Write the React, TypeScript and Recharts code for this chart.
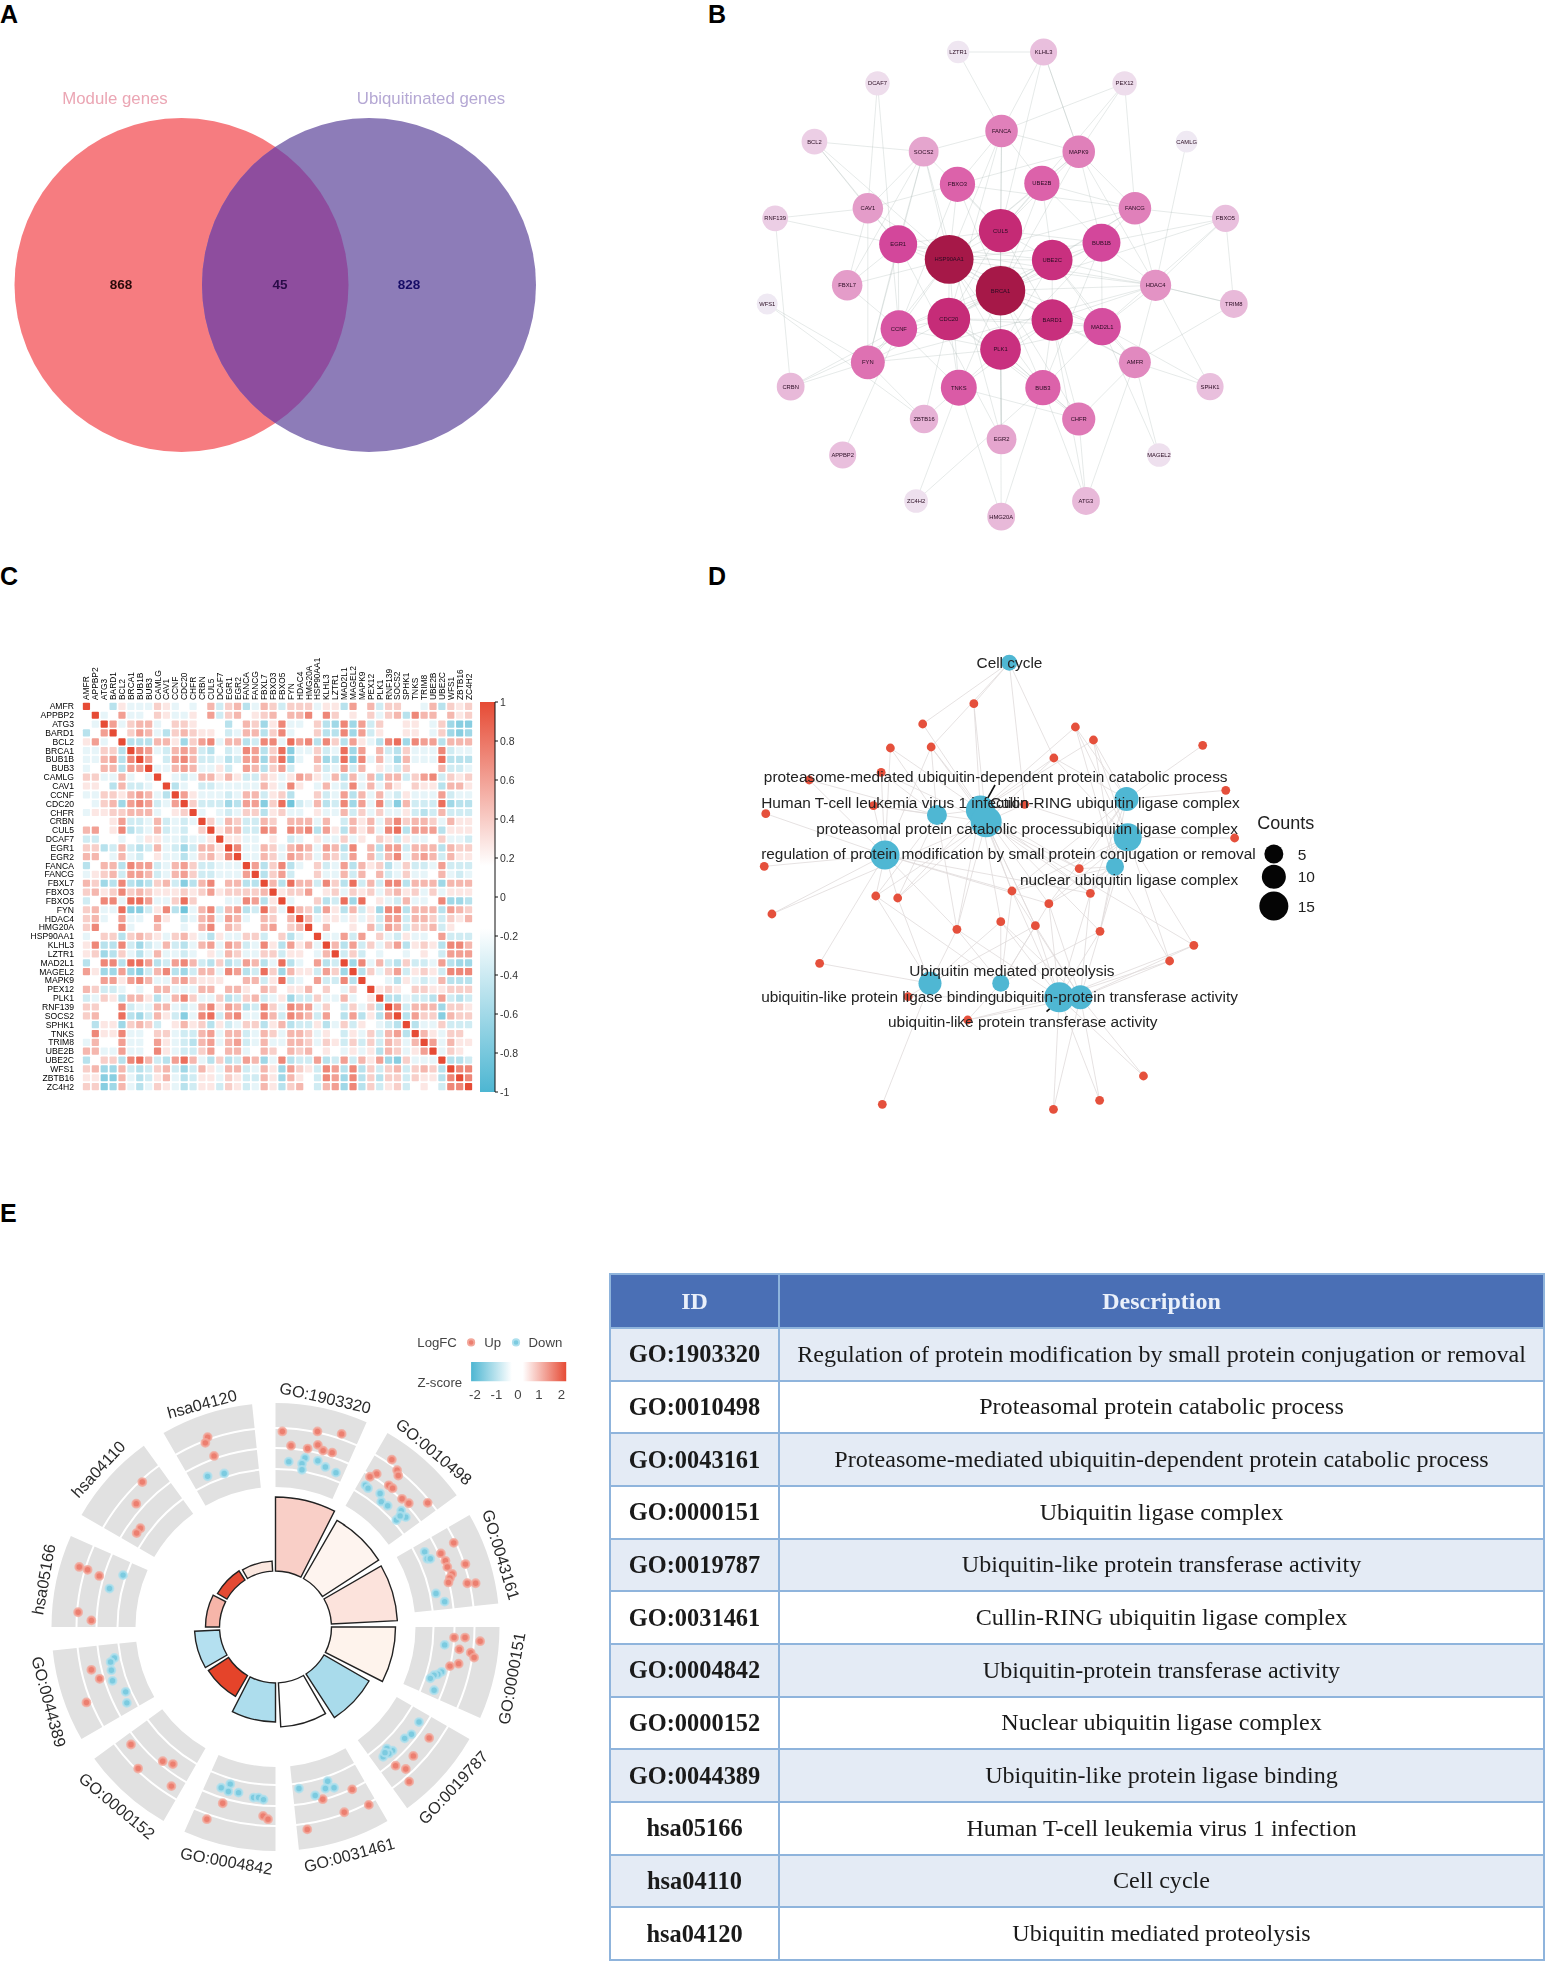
import React from "react";
import { ScatterChart, Scatter, XAxis, YAxis, ReferenceLine, ReferenceArea, PieChart, Pie } from "recharts";

const SANS = "'Liberation Sans', Arial, sans-serif";
const SERIF = "'Liberation Serif', 'Times New Roman', serif";

/* ---------- Panel A ---------- */
const vennSets = [
  { name: "Module genes", x: 181.5, y: 285, r: 167, color: "#F67C80" },
  { name: "Ubiquitinated genes", x: 369, y: 285, r: 167, color: "#8D7CB8" },
];
const vennTitles = [
  { label: "Module genes", x: 115, y: 98, tone: "#EBA6B4" },
  { label: "Ubiquitinated genes", x: 431, y: 98, tone: "#B5A8D4" },
];
const vennCounts = [
  { label: "868", x: 121, y: 284, tone: "#2A0A0A" },
  { label: "45", x: 280, y: 284, tone: "#2A0C48" },
  { label: "828", x: 409, y: 284, tone: "#170C66" },
];

/* ---------- Panel B ---------- */
const ppiNodes: [string, number, number, number][] = [
  ["LZTR1", 662, 96, 33], ["KLHL3", 910, 96, 40], ["DCAF7", 428, 190, 36], ["PEX12", 1145, 190, 36],
  ["FANCA", 788, 333, 48], ["BCL2", 245, 365, 38], ["SOCS2", 562, 395, 44], ["MAPK9", 1012, 395, 48],
  ["CAMLG", 1325, 365, 32], ["FBXO3", 660, 493, 52], ["UBE2B", 905, 490, 52], ["CAV1", 400, 565, 45],
  ["FANCG", 1175, 565, 48], ["RNF139", 131, 595, 38], ["FBXO5", 1438, 595, 40], ["CUL5", 785, 632, 64],
  ["EGR1", 488, 673, 56], ["HSP90AA1", 636, 718, 72], ["UBE2C", 935, 720, 60], ["BUB1B", 1078, 668, 56],
  ["BRCA1", 785, 812, 73], ["CDC20", 635, 897, 63], ["BARD1", 935, 900, 61], ["MAD2L1", 1080, 920, 55],
  ["PLK1", 785, 988, 60], ["CCNF", 490, 926, 54], ["HDAC4", 1235, 796, 46], ["FBXL7", 340, 796, 45],
  ["FYN", 400, 1027, 50], ["TNKS", 664, 1103, 53], ["BUB3", 908, 1103, 52], ["AMFR", 1175, 1027, 47],
  ["CHFR", 1012, 1197, 49], ["TRIM8", 1462, 852, 41], ["WFS1", 108, 852, 31], ["CRBN", 176, 1100, 41],
  ["SPHK1", 1393, 1100, 40], ["ZBTB16", 563, 1197, 42], ["EGR2", 788, 1258, 44], ["APPBP2", 327, 1305, 40],
  ["MAGEL2", 1245, 1305, 35], ["ZC4H2", 540, 1443, 35], ["ATG3", 1033, 1443, 41], ["HMG20A", 787, 1490, 41],
];
const ppiLinks: [string, string][] = [];
const ppiAdjacency: [string, string][] = [
  ["HSP90AA1", "BRCA1 CDC20 UBE2C CUL5 BARD1 PLK1 EGR1 CCNF BUB1B FANCA FBXO3 UBE2B CAV1 FYN TNKS MAD2L1 HDAC4 FBXL7 SOCS2 BCL2 BUB3 MAPK9 FANCG"],
  ["BRCA1", "CDC20 UBE2C CUL5 BARD1 PLK1 EGR1 CCNF BUB1B FANCA FANCG FBXO3 UBE2B MAD2L1 HDAC4 CHFR TNKS EGR2 BUB3 AMFR MAPK9 CRBN FBXO5"],
  ["CDC20", "UBE2C BARD1 PLK1 CCNF BUB1B BUB3 MAD2L1 TNKS CHFR FANCA FYN CUL5 ZBTB16"],
  ["UBE2C", "CUL5 BARD1 PLK1 BUB1B MAD2L1 UBE2B FANCG HDAC4 AMFR CCNF EGR1"],
  ["CUL5", "UBE2B FBXO3 BARD1 EGR1 SOCS2 FANCA BUB1B MAPK9 PEX12 KLHL3 PLK1"],
  ["BARD1", "PLK1 MAD2L1 BUB3 CHFR AMFR HDAC4 ATG3 TNKS"],
  ["PLK1", "EGR2 TNKS BUB3 CCNF FYN CHFR MAD2L1 BUB1B HMG20A"],
  ["BUB1B", "MAD2L1 BUB3 FANCG MAPK9 HDAC4 FBXO5 UBE2B"],
  ["MAD2L1", "BUB3 HDAC4 AMFR FBXO5 SPHK1 MAGEL2"],
  ["EGR1", "EGR2 FYN CAV1 SOCS2 CCNF FBXL7 BCL2 RNF139 HDAC4"],
  ["CCNF", "FBXO3 FYN FBXL7 CRBN APPBP2 TNKS DCAF7"],
  ["FYN", "CAV1 SOCS2 HDAC4 CRBN ZBTB16 WFS1"],
  ["SOCS2", "CAV1 FANCA FBXL7 BCL2 EGR2"],
  ["CAV1", "BCL2 RNF139 DCAF7 FBXL7 MAPK9"],
  ["MAPK9", "FANCA UBE2B PEX12 FANCG KLHL3 HDAC4"],
  ["FANCA", "KLHL3 LZTR1 FBXO3 UBE2B PEX12"],
  ["FANCG", "FBXO3 PEX12 FBXO5 UBE2B HDAC4"],
  ["HDAC4", "TRIM8 AMFR FBXO5 CAMLG SPHK1"],
  ["AMFR", "SPHK1 CHFR ATG3 MAGEL2 TRIM8"],
  ["BUB3", "CHFR ATG3 ZC4H2 HMG20A"],
  ["CHFR", "ATG3 TNKS"],
  ["TNKS", "ZBTB16 HMG20A ZC4H2"],
  ["KLHL3", "LZTR1 MAPK9"],
  ["TRIM8", "HDAC4 FBXO5"],
  ["RNF139", "CRBN"],
  ["WFS1", "ZBTB16"],
];
ppiAdjacency.forEach(([from, tos]) => tos.split(" ").forEach((to) => ppiLinks.push([from, to])));
const ppiLevels: [number, string][] = [
  [32, "#EFE9F3"], [36, "#EEDDEC"], [40, "#E9BFDD"], [44, "#E5A5CE"], [48, "#E080BA"],
  [52, "#DC62AA"], [56, "#D3479B"], [60, "#C9307F"], [64, "#C52A75"], [72, "#A61848"],
];

/* ---------- Panel C ---------- */
const genes = ["AMFR","APPBP2","ATG3","BARD1","BCL2","BRCA1","BUB1B","BUB3","CAMLG","CAV1","CCNF","CDC20","CHFR","CRBN","CUL5","DCAF7","EGR1","EGR2","FANCA","FANCG","FBXL7","FBXO3","FBXO5","FYN","HDAC4","HMG20A","HSP90AA1","KLHL3","LZTR1","MAD2L1","MAGEL2","MAPK9","PEX12","PLK1","RNF139","SOCS2","SPHK1","TNKS","TRIM8","UBE2B","UBE2C","WFS1","ZBTB16","ZC4H2"];
// upper triangle, tenths of a correlation; row i holds columns i+1..43
const corrUpper: number[][] = [
  [0,0,-3,1,-1,-1,-1,2,1,-1,0,-1,0,3,-2,2,3,-3,-1,3,2, -2,2,2,2,-1,1,1,-3,4,0,3,-2,2,2,0,0,-1,3,-3,2,1,2],
  [-1,0,4,-1,-1,0,2,1,-1,-1,1,0,4,-2,2,3,0,1,2,3, 0,3,3,5,0,5,2,0,1,0,2,-1,2,3,-3,5,3,3,0,3,1,2],
  [4,-1,2,3,3,-1,0,2,2,1,0,0,0,-3,0,3,2,-4,1, 5,-1,-1,0,2,-3,-4,5,-4,4,-2,2,0,0,1,1,0,-1,2,-4,-5,-5],
  [0,2,4,3,-1,-3,2,3,2,1,1,0,-2,-1,3,3,-3,2, 5,-1,0,0,2,-3,-3,5,-4,4,-2,1,0,0,1,1,0,-1,2,-4,-5,-4],
  [-3,-3,-3,3,3,1,-4,2,4,5,-1,3,3,-3,-2,5,5, -1,6,4,5,-3,5,2,-3,4,1,-1,-3,5,6,-4,5,4,4,-3,3,3,3],
  [5,4,-1,-2,3,4,3,-2,-3,0,-2,-1,5,4,-3,2, 6,-5,-1,-1,2,-2,-1,6,-4,4,0,3,-2,-3,2,-1,-1,-1,5,-2,-1,-1],
  [4,0,-2,4,5,3,-2,-2,-1,-3,-2,4,4,-4,3, 6,-5,-1,0,3,-4,-3,6,-5,5,-1,3,-1,-4,3,-1,-1,-1,6,-3,-3,-3],
  [-1,-1,3,4,3,-1,-1,1,-2,0,4,3,-3,2, 4,-2,0,0,2,-2,-1,4,-2,3,0,1,-1,-2,2,0,0,0,3,-2,-2,-1],
  [0,-1,-2,-1,3,3,1,3,1,-2,-2,2,1, -1,1,4,3,1,-1,3,-3,3,-1,3,-3,3,3,-2,2,4,5,-2,2,1,2],
  [-3,-1,0,-2,-2,-1,-1,-1,-1,-1,3,1, -1,5,1,0,-1,3,-1,-2,5,-1,3,-1,3,1,0,2,1,1,-3,3,3,1],
  [4,1,-1,-1,-1,-2,-1,3,3,-2,1, 2,-3,0,0,2,-2,-1,4,-3,3,-1,3,-1,-2,1,-1,-1,-1,4,-2,-1,-1],
  [2,-2,-2,-2,-4,-3,4,4,-5,2, 6,-6,-2,-1,3,-3,-2,5,-4,4,-1,5,-2,-5,3,-2,-2,-2,6,-4,-3,-3],
  [-1,0,-1,-2,-1,2,2,-3,1, 2,-1,-1,0,1,-1,-1,3,-2,2,-1,2,-1,-1,1,-2,-3,-2,3,-2,-2,-2],
  [2,-1,3,2,-2,-2,3,2, 0,3,3,3,-1,3,0,-2,3,1,3,-1,3,5,2,3,3,2,-1,3,1,1],
  [1,3,3,-2,-2,5,4, 0,5,4,5,-3,4,1,-3,3,1,3,-1,5,6,-3,4,4,4,-3,1,1,1],
  [1,1,-1,-1,0,1, 0,-2,-1,0,1,-1,-1,2,-1,1,0,2,1,-2,1,-1,-1,0,2,-1,-1,-2],
  [5,-1,-1,3,2, -1,3,4,3,-1,4,3,-3,5,0,3,-3,4,4,-2,3,3,3,-3,3,2,2],
  [-1,-1,3,2, -1,4,3,2,-1,3,2,-2,4,0,3,-2,3,5,-1,3,4,3,-2,3,1,1],
  [4,-3,2, 5,-3,-1,0,2,-2,-1,4,-3,3,1,2,-3,-1,2,-2,-2,-1,4,-2,-2,-2],
  [-3,2, 4,-2,0,0,2,-1,-1,3,-2,3,0,3,-2,-1,2,-1,-1,0,3,-1,-2,-1],
  [3, -3,6,3,3,-2,5,2,-3,6,-2,3,-2,5,5,-3,3,3,3,-4,3,3,3],
  [1,2,2,4,0,1,2,-1,2,1,2,-1,2,3,1,2,-1,2,-1,1,1,1],
  [-1,0,0,2,-3,-2,6,-4,6,0,1,-1,-2,3,-1,-1,0,5,-4,-4,-3],
  [3,2,-3,4,1,-3,3,-2,1,-4,5,5,-3,3,3,3,-3,4,3,2],
  [3,-1,1,1,-1,1,-1,1,-2,4,4,-2,3,3,2,-2,2,1,3],
  [0,3,0,0,1,0,3,-2,4,3,-2,2,2,3,-2,1,0,0],
  [-1,-1,4,-2,4,0,2,-1,-2,1,-1,-1,0,4,-2,-2,-2],
  [3,-3,4,-2,2,-1,2,4,-3,1,2,1,-3,5,5,3],
  [-2,2,-2,0,-1,0,0,-1,0,1,0,-2,4,4,4],
  [-4,5,-1,3,-2,-3,2,-2,-2,-1,4,-3,-4,-4],
  [-3,2,-1,2,4,-2,1,2,1,-2,5,5,5],
  [0,0,-1,-3,1,-1,-2,-1,3,-3,-3,-3],
  [1,2,1,0,2,2,1,1,2,2,2],
  [-3,-3,-1,-2,-2,-3,4,-2,-3,-2],
  [5,-2,3,3,3,-4,2,2,1],
  [-3,4,2,2,-5,3,2,2],
  [-3,-1,-1,2,-2,-2,-2],
  [3,1,-1,2,2,0],
  [4,-1,3,1,1],
  [-1,2,1,0],
  [-3,-3,-2],
  [5,5],
  [5],
  [],
];
const corrTicks = [1, 0.8, 0.6, 0.4, 0.2, 0, -0.2, -0.4, -0.6, -0.8, -1];

/* ---------- Panel D ---------- */
const geneDots = [
  [608,191],[475,252],[872,261],[919,300],[391,324],[497,321],[1203,316],[816,354],[367,397],[180,420],
  [1263,451],[347,497],[740,493],[67,521],[1286,594],[63,679],[882,686],[353,768],[410,774],[707,753],
  [911,760],[803,791],[83,822],[678,845],[768,857],[564,868],[936,874],[1180,916],[1117,963],[207,970],
  [437,1070],[592,1140],[1049,1308],[935,1381],[815,1408],[370,1393],
].map(([x, y]) => ({ x, y }));
const termNodes = [
  { id: "CC", x: 700, y: 68, count: 2, genes: [0,1,5,7,12] },
  { id: "P1", x: 625, y: 510, count: 15, genes: [0,1,4,5,7,3,2,12,16,18,19,20,21,23,24,25,26] },
  { id: "P2", x: 640, y: 545, count: 17, genes: [0,5,7,8,11,12,16,17,18,19,20,22,24,25,27] },
  { id: "HT", x: 512, y: 525, count: 6, genes: [4,5,8,9,11,12,17,18,25] },
  { id: "CR", x: 1005, y: 477, count: 10, genes: [2,3,6,7,10,16,19,20,21,26] },
  { id: "UL", x: 1008, y: 592, count: 14, genes: [3,2,7,14,16,19,21,20,26,27,28,12] },
  { id: "NU", x: 975, y: 680, count: 4, genes: [3,2,16,19,21,20,26,28] },
  { id: "RG", x: 377, y: 645, count: 15, genes: [4,5,8,9,11,13,15,17,18,22,25,19,21,20,29] },
  { id: "ULB", x: 494, y: 1030, count: 9, genes: [17,18,25,29,30,23,35,24] },
  { id: "UMP", x: 678, y: 1030, count: 3, genes: [19,23,24,25,26,21,17,31] },
  { id: "UPT", x: 830, y: 1072, count: 16, genes: [19,21,20,23,24,25,26,28,27,32,33,34,31,30] },
  { id: "ULT", x: 885, y: 1072, count: 10, genes: [19,21,20,23,26,27,28,32,33,34,24,31] },
];
const termLabels = [
  { label: "Cell cycle", x: 615, y: 68 },
  { label: "proteasome-mediated ubiquitin-dependent protein catabolic process", x: 62, y: 408 },
  { label: "Human T-cell leukemia virus 1 infection", x: 55, y: 487 },
  { label: "Cullin-RING ubiquitin ligase complex", x: 650, y: 487 },
  { label: "proteasomal protein catabolic process", x: 198, y: 565 },
  { label: "ubiquitin ligase complex", x: 870, y: 565 },
  { label: "regulation of protein modification by small protein conjugation or removal", x: 55, y: 640 },
  { label: "nuclear ubiquitin ligase complex", x: 728, y: 718 },
  { label: "Ubiquitin mediated proteolysis", x: 440, y: 990 },
  { label: "ubiquitin-like protein ligase binding", x: 55, y: 1068 },
  { label: "ubiquitin-protein transferase activity", x: 665, y: 1068 },
  { label: "ubiquitin-like protein transferase activity", x: 385, y: 1145 },
];
const leaderLines = [
  [[663, 435], [628, 508]],
  [[502, 510], [512, 525]],
  [[835, 1075], [797, 1115]],
];
const countKey = [
  { x: 1388, y: 642, count: 5 },
  { x: 1388, y: 710, count: 10 },
  { x: 1388, y: 798, count: 15 },
];
const countKeyText = [
  { label: "5", x: 1450, y: 642 },
  { label: "10", x: 1450, y: 710 },
  { label: "15", x: 1450, y: 798 },
];
const countKeyTitle = [{ label: "Counts", x: 1345, y: 548 }];

/* ---------- Panel E ---------- */
const termIds = ["GO:1903320","GO:0010498","GO:0043161","GO:0000151","GO:0019787","GO:0031461","GO:0004842","GO:0000152","GO:0044389","hsa05166","hsa04110","hsa04120"];
const termDescriptions = [
  "Regulation of protein modification by small protein conjugation or removal",
  "Proteasomal protein catabolic process",
  "Proteasome-mediated ubiquitin-dependent protein catabolic process",
  "Ubiquitin ligase complex",
  "Ubiquitin-like protein transferase activity",
  "Cullin-RING ubiquitin ligase complex",
  "Ubiquitin-protein transferase activity",
  "Nuclear ubiquitin ligase complex",
  "Ubiquitin-like protein ligase binding",
  "Human T-cell leukemia virus 1 infection",
  "Cell cycle",
  "Ubiquitin mediated proteolysis",
];
const barHeights = [74, 67, 66, 64, 52, 44, 39, 24, 25, 14, 11, 10];
const barColors = ["#F9CFC7","#FEF4EF","#FCE3DC","#FEF3EC","#A9DBEB","#FFFFFF","#ADDDED","#E5442A","#B4E0F0","#F6B5A9","#E44A33","#FBE7DF"];
const ringBands = [[140, 157], [159, 178], [180, 198], [200, 224]];
const termLabelSpots = [
  { label: "GO:1903320", x: 862, y: 190, rot: 13 },
  { label: "GO:0010498", x: 1150, y: 322, rot: 40 },
  { label: "GO:0043161", x: 1328, y: 575, rot: 73 },
  { label: "GO:0000151", x: 1355, y: 878, rot: -80 },
  { label: "GO:0019787", x: 1200, y: 1145, rot: -47 },
  { label: "GO:0031461", x: 925, y: 1310, rot: -15 },
  { label: "GO:0004842", x: 600, y: 1325, rot: 10 },
  { label: "GO:0000152", x: 310, y: 1190, rot: 40 },
  { label: "GO:0044389", x: 130, y: 935, rot: 75 },
  { label: "hsa05166", x: 115, y: 635, rot: -80 },
  { label: "hsa04110", x: 260, y: 365, rot: -47 },
  { label: "hsa04120", x: 535, y: 205, rot: -15 },
];
const upDots = [
  [748,273],[841,273],[905,279],[771,308],[815,315],[842,306],[856,320],[880,325],
  [1038,342],[1052,368],[1055,381],[998,377],[980,384],[1030,405],[1040,412],[1065,438],[1083,449],[1133,448],
  [1202,546],[1168,572],[1180,590],[1185,605],[1198,622],[1192,632],[1188,643],[1233,598],[1238,645],[1260,645],
  [1203,778],[1232,778],[1272,787],[1217,807],[1247,815],[1256,827],[1215,842],[1192,848],
  [1137,1024],[1095,1068],[1048,1092],[1075,1100],[1084,1131],
  [933,1150],[855,1174],[912,1206],[977,1188],[814,1248],
  [590,1184],[548,1223],[697,1215],[710,1223],
  [347,1040],[431,1081],[458,1088],[366,1099],[454,1142],
  [242,857],[264,879],[229,937],
  [210,605],[232,612],[263,627],[207,716],[242,736],
  [377,397],[361,450],[372,510],[362,522],
  [550,287],[544,301],[567,333],
].map(([x, y]) => ({ x, y }));
const downDots = [
  [765,347],[808,338],[800,352],[842,345],[862,360],[890,374],[800,367],
  [968,405],[975,412],[1007,425],[1010,445],[1027,455],[1063,467],[1075,483],[1050,490],[1060,480],
  [1125,568],[1132,585],[1140,585],[1155,670],[1178,690],
  [1178,796],[1170,862],[1160,868],[1150,870],[1140,878],[1150,907],
  [1110,985],[1090,1015],[1072,1025],[1040,1055],[1025,1050],[1015,1070],[1030,1062],[1020,1060],
  [792,1148],[835,1165],[868,1130],[862,1148],[885,1146],
  [610,1137],[586,1146],[605,1155],[632,1158],[672,1170],[685,1170],[698,1175],
  [303,828],[293,838],[295,858],[298,884],[333,911],[336,938],
  [326,625],[290,658],
  [550,383],[594,376],
].map(([x, y]) => ({ x, y }));
const legendTexts = [
  { label: "LogFC", x: 1158, y: 55 }, { label: "Up", x: 1305, y: 55 }, { label: "Down", x: 1445, y: 55 },
  { label: "Z-score", x: 1165, y: 153 }, { label: "-2", x: 1258, y: 182 }, { label: "-1", x: 1315, y: 182 },
  { label: "0", x: 1372, y: 182 }, { label: "1", x: 1428, y: 182 }, { label: "2", x: 1487, y: 182 },
];

/* ---------- helpers ---------- */
const mix = (hex: string, other: string, t: number) => {
  const p = (h: string, i: number) => parseInt(h.slice(i, i + 2), 16);
  const c = [1, 3, 5].map((i) => Math.round(p(hex, i) * (1 - t) + p(other, i) * t));
  return `rgb(${c[0]},${c[1]},${c[2]})`;
};
const ppiColor = (w: number) => {
  for (let i = 1; i < ppiLevels.length; i++) {
    if (w <= ppiLevels[i][0]) {
      const [a, ca] = ppiLevels[i - 1];
      const [b, cb] = ppiLevels[i];
      return mix(ca, cb, Math.max(0, (w - a) / (b - a)));
    }
  }
  return ppiLevels[ppiLevels.length - 1][1];
};
const corrColor = (v: number) => {
  const t = Math.min(1, Math.abs(v) / 7.5);
  return mix("#FFFFFF", v > 0 ? "#E64B35" : "#4DB6D2", Math.abs(v) >= 10 ? 1 : t);
};
const heatCells: { x: number; y: number; v: number }[] = [];
genes.forEach((_, r) =>
  genes.forEach((__, c) => {
    const v = r === c ? 10 : r < c ? corrUpper[r][c - r - 1] ?? 0 : corrUpper[c][r - c - 1] ?? 0;
    heatCells.push({ x: c, y: r, v });
  })
);
const geneIdx = genes.map((_, i) => i);
const corrAnchors = corrTicks.map((y) => ({ x: 0.5, y }));

const textShape = (o: { size: number; color?: string; weight?: string; anchor?: string }) => (p: any) => {
  const d = p.payload;
  return (
    <text
      x={p.cx}
      y={p.cy}
      fontFamily={SANS}
      fontSize={o.size}
      fontWeight={o.weight ?? "normal"}
      fill={d.tone ?? o.color ?? "#222"}
      textAnchor={o.anchor ?? "start"}
      dominantBaseline="central"
      transform={d.rot ? `rotate(${d.rot} ${p.cx} ${p.cy})` : undefined}
    >
      {d.label}
    </text>
  );
};

const Panel = ({ left, top, blur, children }: any) => (
  <div style={{ position: "absolute", left, top, filter: blur ? `blur(${blur}px)` : undefined }}>{children}</div>
);

const plane = (w: number, h: number, xMax: number, yMax: number, children: any) => (
  <ScatterChart width={w} height={h} margin={{ top: 0, right: 0, bottom: 0, left: 0 }}>
    <XAxis hide type="number" dataKey="x" domain={[0, xMax]} />
    <YAxis hide type="number" dataKey="y" domain={[0, yMax]} reversed />
    {children}
  </ScatterChart>
);

const nodeByName: Record<string, [string, number, number, number]> = {};
ppiNodes.forEach((n) => (nodeByName[n[0]] = n));
const ppiData = ppiNodes.map(([label, x, y, w]) => ({ label, x, y, w }));

const panelLetters = [
  { t: "A", x: 0, y: 0 }, { t: "B", x: 708, y: 0 }, { t: "C", x: 0, y: 562 }, { t: "D", x: 708, y: 562 }, { t: "E", x: 0, y: 1199 },
];
const BORDER = "2px solid #8FB4DC";

export default function App() {
  return (
    <div style={{ position: "absolute", left: 0, top: 0, width: 1549, height: 1962, background: "#fff", overflow: "hidden" }}>
      {panelLetters.map((l) => (
        <div key={l.t} style={{ position: "absolute", left: l.x, top: l.y, font: `bold 25px ${SANS}`, color: "#000", lineHeight: "29px" }}>{l.t}</div>
      ))}

      {/* A */}
      <Panel left={0} top={0} blur={0.5}>
        {plane(560, 480, 560, 480, [
          <defs key="d">
            <clipPath id="vennRight"><circle cx={vennSets[1].x} cy={vennSets[1].y} r={vennSets[1].r} /></clipPath>
          </defs>,
          <Scatter key="s" data={vennSets} isAnimationActive={false}
            shape={(p: any) => <circle cx={p.cx} cy={p.cy} r={p.payload.r} fill={p.payload.color} />} />,
          <Scatter key="o" data={[vennSets[0]]} isAnimationActive={false}
            shape={(p: any) => <circle cx={p.cx} cy={p.cy} r={p.payload.r} fill="#8E4D9E" clipPath="url(#vennRight)" />} />,
          <Scatter key="t" data={vennTitles} isAnimationActive={false} shape={textShape({ size: 16.8, anchor: "middle" })} />,
          <Scatter key="c" data={vennCounts} isAnimationActive={false} shape={textShape({ size: 13.5, weight: "bold", anchor: "middle" })} />,
        ])}
      </Panel>

      {/* B */}
      <Panel left={730} top={20} blur={0.7}>
        {plane(540, 520, 1567, 1560, [
          ...ppiLinks.map(([a, b], i) => (
            <ReferenceLine key={`l${i}`} segment={[{ x: nodeByName[a][1], y: nodeByName[a][2] }, { x: nodeByName[b][1], y: nodeByName[b][2] }]}
              stroke="#A9B8B4" strokeOpacity={0.45} strokeWidth={0.65} />
          )),
          <Scatter key="n" data={ppiData} isAnimationActive={false}
            shape={(p: any) => (
              <g>
                <circle cx={p.cx} cy={p.cy} r={p.payload.w / 2.95} fill={ppiColor(p.payload.w)} />
                <text x={p.cx} y={p.cy} fontFamily={SANS} fontSize={5.8} fill="#2A0C22" textAnchor="middle" dominantBaseline="central">{p.payload.label}</text>
              </g>
            )} />,
        ])}
      </Panel>

      {/* C */}
      <Panel left={0} top={640} blur={0.5}>
        <ScatterChart width={473} height={451} margin={{ top: 0, right: 0, bottom: 0, left: 0 }}>
          <XAxis type="number" dataKey="x" orientation="top" domain={[-0.5, 43.5]} ticks={geneIdx} interval={0} height={62}
            axisLine={false} tickLine={false} tickSize={0}
            tick={(p: any) => (
              <text x={p.x + 3} y={p.y} transform={`rotate(-90 ${p.x + 3} ${p.y})`} fontFamily={SANS} fontSize={8.4} fill="#000" textAnchor="start">{genes[p.payload.value]}</text>
            )} />
          <YAxis type="number" dataKey="y" domain={[-0.5, 43.5]} reversed ticks={geneIdx} interval={0} width={82}
            axisLine={false} tickLine={false} tickSize={0}
            tick={(p: any) => (
              <text x={74} y={p.y + 3} fontFamily={SANS} fontSize={8.6} fill="#000" textAnchor="end">{genes[p.payload.value]}</text>
            )} />
          <Scatter data={heatCells} isAnimationActive={false}
            shape={(p: any) => <rect x={p.cx - 3.6} y={p.cy - 3.6} width={7.2} height={7.2} rx={0.8} fill={corrColor(p.payload.v)} />} />
        </ScatterChart>
      </Panel>
      <Panel left={480} top={696} blur={0.6}>
        <ScatterChart width={70} height={402} margin={{ top: 6, right: 0, bottom: 6, left: 0 }}>
          <defs>
            <linearGradient id="corrBar" x1="0" y1="0" x2="0" y2="1">
              <stop offset="0" stopColor="#E64B35" />
              <stop offset="0.42" stopColor="#FFFFFF" />
              <stop offset="0.58" stopColor="#FFFFFF" />
              <stop offset="1" stopColor="#4DB6D2" />
            </linearGradient>
          </defs>
          <XAxis hide type="number" dataKey="x" domain={[0, 1]} />
          <YAxis type="number" dataKey="y" orientation="right" domain={[-1, 1]} ticks={corrTicks} interval={0} width={55}
            stroke="#111" tick={{ fontFamily: SANS, fontSize: 10.5, fill: "#333" }} tickSize={3} tickMargin={2} />
          <ReferenceArea x1={0} x2={1} y1={-1} y2={1} fill="url(#corrBar)" fillOpacity={1} stroke="none" />
          <Scatter data={corrAnchors} isAnimationActive={false} shape={() => <g />} />
        </ScatterChart>
      </Panel>

      {/* D */}
      <Panel left={740} top={640} blur={0.45}>
        {plane(600, 500, 1560, 1500, [
          ...termNodes.flatMap((t) =>
            t.genes.map((g) => (
              <ReferenceLine key={`${t.id}-${g}`} segment={[{ x: t.x, y: t.y }, geneDots[g]]} stroke="#E0DADA" strokeWidth={0.8} />
            ))
          ),
          <Scatter key="g" data={geneDots} isAnimationActive={false}
            shape={(p: any) => <circle cx={p.cx} cy={p.cy} r={4.4} fill="#E5503C" />} />,
          <Scatter key="t" data={termNodes} isAnimationActive={false}
            shape={(p: any) => <circle cx={p.cx} cy={p.cy} r={7 + p.payload.count * 0.5} fill="#4FB7D3" />} />,
          <Scatter key="k" data={countKey} isAnimationActive={false}
            shape={(p: any) => <circle cx={p.cx} cy={p.cy} r={7 + p.payload.count * 0.5} fill="#050505" />} />,
          <Scatter key="lb" data={termLabels} isAnimationActive={false} shape={textShape({ size: 15.4, color: "#222" })} />,
          <Scatter key="kt" data={countKeyText} isAnimationActive={false} shape={textShape({ size: 15.5, color: "#222" })} />,
          <Scatter key="kh" data={countKeyTitle} isAnimationActive={false} shape={textShape({ size: 18, color: "#222" })} />,
          ...leaderLines.map(([a, b], i) => (
            <ReferenceLine key={`ld${i}`} isFront segment={[{ x: a[0], y: a[1] }, { x: b[0], y: b[1] }]} stroke="#111" strokeWidth={1.6} />
          )),
        ])}
      </Panel>

      {/* E */}
      <Panel left={0} top={1320} blur={0.5}>
        <PieChart width={590} height={640} margin={{ top: 0, right: 0, bottom: 0, left: 0 }}>
          {ringBands.map(([inner, outer]) => (
            <Pie key={inner} data={termIds.map((name) => ({ name, value: 1 }))} dataKey="value" cx={275.5} cy={307}
              startAngle={90} endAngle={-270} paddingAngle={6} innerRadius={inner} outerRadius={outer}
              fill="#E1E1E1" stroke="none" isAnimationActive={false} />
          ))}
          {termIds.map((name, i) => (
            <Pie key={name} data={[{ name, value: barHeights[i] }]} dataKey="value" cx={275.5} cy={307}
              startAngle={90 - i * 30} endAngle={90 - i * 30 - 27} paddingAngle={0} innerRadius={56} outerRadius={56 + barHeights[i]}
              fill={barColors[i]} stroke="#222" strokeWidth={1.4} isAnimationActive={false} />
          ))}
        </PieChart>
      </Panel>
      <Panel left={0} top={1320} blur={0.6}>
        {plane(590, 640, 1563, 1568, [
          <defs key="d">
            <linearGradient id="zBlue" x1="0" y1="0" x2="1" y2="0">
              <stop offset="0" stopColor="#4DB6D2" /><stop offset="1" stopColor="#FFFFFF" />
            </linearGradient>
            <linearGradient id="zRed" x1="0" y1="0" x2="1" y2="0">
              <stop offset="0" stopColor="#FFFFFF" /><stop offset="1" stopColor="#E64B35" />
            </linearGradient>
          </defs>,
          <ReferenceArea key="zb" x1={1248} x2={1356} y1={103} y2={150} fill="url(#zBlue)" fillOpacity={1} stroke="none" />,
          <ReferenceArea key="zr" x1={1385} x2={1500} y1={103} y2={150} fill="url(#zRed)" fillOpacity={1} stroke="none" />,
          <Scatter key="u" data={upDots} isAnimationActive={false}
            shape={(p: any) => <circle cx={p.cx} cy={p.cy} r={3.8} fill="#EC7F70" stroke="#F2A79B" strokeOpacity={0.8} strokeWidth={2.2} />} />,
          <Scatter key="dn" data={downDots} isAnimationActive={false}
            shape={(p: any) => <circle cx={p.cx} cy={p.cy} r={3.8} fill="#7CCBE0" stroke="#AEE0EE" strokeOpacity={0.8} strokeWidth={2.2} />} />,
          <Scatter key="lu" data={[{ x: 1248, y: 55 }]} isAnimationActive={false}
            shape={(p: any) => <circle cx={p.cx} cy={p.cy} r={3.2} fill="#EC7F70" stroke="#F2A79B" strokeWidth={1.8} />} />,
          <Scatter key="ld" data={[{ x: 1367, y: 55 }]} isAnimationActive={false}
            shape={(p: any) => <circle cx={p.cx} cy={p.cy} r={3.2} fill="#7CCBE0" stroke="#AEE0EE" strokeWidth={1.8} />} />,
          <Scatter key="tl" data={termLabelSpots} isAnimationActive={false} shape={textShape({ size: 16.3, color: "#2A2A2A", anchor: "middle" })} />,
          <Scatter key="lg" data={legendTexts} isAnimationActive={false} shape={textShape({ size: 13.2, color: "#444", anchor: "middle" })} />,
        ])}
      </Panel>

      {/* Table */}
      <div style={{ position: "absolute", left: 609, top: 1273, width: 936, filter: "blur(0.4px)" }}>
        <table style={{ width: 936, height: 688, borderCollapse: "collapse", tableLayout: "fixed", fontFamily: SERIF, color: "#1A1A1A" }}>
          <colgroup><col style={{ width: 169 }} /><col /></colgroup>
          <thead>
            <tr style={{ height: 54, background: "#4A6FB5", color: "#EAF0FA" }}>
              <th style={{ fontSize: 24, border: BORDER }}>ID</th>
              <th style={{ fontSize: 24, border: BORDER }}>Description</th>
            </tr>
          </thead>
          <tbody>
            {termIds.map((id, i) => (
              <tr key={id} style={{ background: i % 2 === 0 ? "#E4EBF5" : "#FFFFFF" }}>
                <td style={{ textAlign: "center", fontWeight: "bold", fontSize: 24.4, border: BORDER, padding: 0 }}>{id}</td>
                <td style={{ textAlign: "center", fontSize: 24.1, border: BORDER, padding: 0 }}>{termDescriptions[i]}</td>
              </tr>
            ))}
          </tbody>
        </table>
      </div>
    </div>
  );
}
